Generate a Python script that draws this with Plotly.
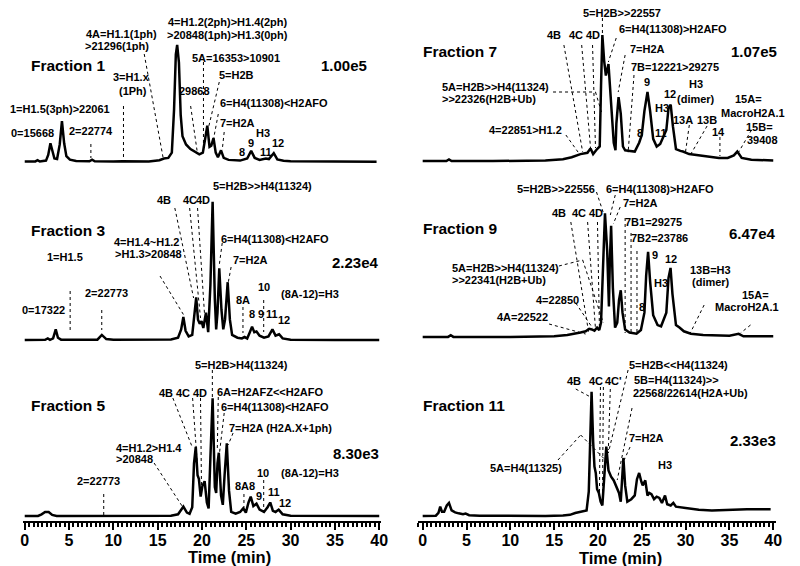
import plotly.graph_objects as go

W, H = 800, 566

# ---------------- data: retention time (min) / relative intensity (% of panel full scale) -------------
f1_time = [0, 1.2, 1.45, 1.7, 2.4, 2.65, 2.9, 3.1, 3.35, 3.65, 3.95, 4.2, 4.45, 4.7, 5.1, 5.8, 7.3, 7.6, 7.9,
           10, 11, 14, 15.2, 15.7, 16.2, 16.6, 16.85, 17.05, 17.2, 17.4, 17.6, 17.8, 18.2, 18.7, 19.2, 19.7,
           20.1, 20.35, 20.6, 20.85, 21.05, 21.3, 21.55, 21.8, 22.15, 22.45, 23, 24.3, 25.1, 25.55, 25.95,
           26.5, 27.2, 27.55, 28.1, 28.5, 29.2, 30, 35, 39.7]
f1_int = [0.5, 0.5, 1.5, 0.4, 1.2, 6, 16, 9, 3, 2.5, 15, 35, 16, 5, 2, 0.8, 0.6, 2, 0.6,
          0.4, 0.6, 0.5, 1.5, 3, 3.5, 8, 45, 92, 100, 85, 40, 22, 15, 11, 8.5, 6.5,
          8, 20, 31, 13, 14, 20.5, 8, 4, 10, 3.5, 1.8, 1.2, 3, 9.5, 3.5,
          1.8, 3, 2.5, 7.5, 2.2, 1, 0.6, 0.4, 0.3]

f3_time = [0, 2.3, 2.6, 2.85, 3.2, 3.5, 3.75, 4.1, 8.2, 8.7, 9.2, 10, 16.5, 17.3, 17.65, 17.9, 18.15, 18.5,
           18.9, 19.15, 19.35, 19.55, 19.75, 19.95, 20.15, 20.45, 20.7, 20.95, 21.2, 21.45, 21.6, 21.75,
           21.95, 22.2, 22.4, 22.6, 22.9, 23.15, 23.4, 24, 24.5, 24.8, 25.1, 25.4, 25.65, 25.9, 26.15,
           26.5, 27, 27.5, 27.95, 28.3, 28.7, 29.1, 30, 35, 40]
f3_int = [0.3, 0.5, 1.5, 0.5, 1.5, 8, 2, 0.6, 0.6, 4, 1, 0.5, 0.8, 2, 8, 17, 7, 3,
          4, 20, 31, 15, 12, 14, 9, 20, 6, 40, 100, 30, 8, 20,
          52, 22, 8, 15, 42, 15, 4, 2, 1.5, 2.5, 1.5, 6, 10, 6, 6.5,
          3.5, 2, 3, 8, 3.5, 4.5, 1.5, 0.6, 0.4, 0.3]

f5_time = [0, 1.5, 1.9, 2.3, 2.7, 3.1, 3.6, 8, 8.7, 9.4, 16.5, 17.3, 17.9, 18.3, 18.6, 18.9, 19.1, 19.3,
           19.5, 19.65, 19.85, 20.05, 20.3, 20.55, 20.75, 20.95, 21.2, 21.45, 21.6, 21.75, 21.9, 22.15,
           22.35, 22.55, 22.8, 23.05, 23.3, 23.8, 24.3, 24.65, 24.95, 25.25, 25.5, 25.8, 26.15, 26.5,
           27, 27.4, 27.7, 28.0, 28.3, 28.65, 29.1, 30, 35, 40]
f5_int = [0.5, 0.6, 2, 4, 4, 1.5, 0.6, 0.5, 1, 0.5, 0.8, 2, 8.5, 3.5, 2.5, 8, 45, 59,
          35, 32, 17, 26, 30, 12, 7, 50, 100, 25, 20, 45, 54, 18,
          10, 35, 62, 22, 4, 2.5, 4, 7, 3.5, 12, 17, 9, 11, 6,
          4, 8, 12, 5, 4, 6, 2, 0.8, 0.6, 0.5]

f7_time = [0, 2.7, 3.0, 3.3, 8, 14, 16, 17, 18, 18.8, 19.15, 19.45, 19.9, 20.2, 20.35, 20.5, 20.7, 20.9,
           21.2, 21.5, 21.8, 22.0, 22.1, 22.35, 22.6, 22.85, 23.1, 23.65, 24.2, 24.7, 25.0, 25.3, 25.65,
           25.95, 26.3, 26.7, 27.1, 27.55, 27.8, 28.05, 28.3, 28.55, 28.9, 29.4, 29.7, 30.4, 31.5, 33,
           33.8, 34.8, 35.5, 35.9, 36.4, 37.5, 40]
f7_int = [0.5, 0.5, 1.8, 0.5, 0.5, 1, 2, 3.5, 6, 7, 10.5, 6, 10, 12, 60, 100, 80, 68,
          77, 45, 15, 9, 30, 51, 38, 12, 9, 8.5, 8, 15, 21, 40, 55,
          40, 18, 12, 14, 21, 25, 42, 45, 28, 10, 8.5, 8, 6, 5, 3.5,
          3, 3, 5, 8, 3, 1.5, 1]

f9_time = [0, 2.9, 3.2, 3.5, 10, 15, 16.5, 17.5, 18.0, 18.6, 19.0, 19.3, 19.6, 19.9, 20.15, 20.35, 20.55,
           20.8, 21.05, 21.25, 21.35, 21.5, 21.7, 21.95, 22.2, 22.4, 22.6, 22.8, 23.1, 23.6, 24.4, 24.9,
           25.3, 25.5, 25.72, 25.95, 26.3, 26.8, 27.2, 27.6, 27.8, 28.05, 28.28, 28.5, 28.9, 29.3, 29.8,
           30.6, 32, 35, 36.05, 36.6, 40]
f9_int = [0.5, 0.5, 1.8, 0.5, 0.5, 1, 2, 3, 4, 5, 7, 6.5, 5.5, 8, 6, 12, 60,
          100, 70, 25, 60, 90, 40, 8, 12, 30, 38, 20, 6.5, 4, 3, 6,
          20, 50, 69, 45, 18, 10, 9, 16, 20, 48, 56, 35, 10, 8, 5,
          3, 2, 1.5, 3, 1, 1]

f11_time = [0, 1.5, 1.8, 2.0, 2.2, 2.45, 2.75, 3.0, 3.3, 3.7, 4.1, 4.6, 4.9, 5.3, 6.5, 10, 14, 16, 16.8,
            17.4, 17.8, 18.3, 18.7, 18.95, 19.1, 19.27, 19.45, 19.6, 19.75, 19.9, 20.1, 20.3, 20.5, 20.7,
            20.95, 21.2, 21.5, 21.8, 22.1, 22.4, 22.6, 22.75, 22.9, 23.1, 23.35, 23.8, 24.2, 24.45, 24.7,
            24.95, 25.1, 25.4, 25.65, 25.85, 26.1, 26.4, 26.7, 27.0, 27.3, 27.65, 27.9, 28.3, 28.6, 28.9,
            29.5, 30.2, 31.5, 33, 35, 37, 39.7]
f11_int = [0.5, 0.8, 3, 8, 4, 4, 9, 11, 5, 3.5, 2.7, 2, 2.5, 1.2, 0.8, 0.5, 0.6, 1, 1.5,
           3, 3.5, 4, 5, 20, 70, 100, 60, 40, 35, 22, 19, 12, 9, 30,
           56, 37, 32, 29, 24, 19, 12, 30, 47, 25, 12, 14, 17, 30, 35,
           28, 25, 29, 17, 19, 18, 14, 16, 15, 11, 17, 10, 9, 11, 8,
           7.5, 6.5, 5.5, 5, 5.5, 6, 6]

fraction_names = ["Fraction 1", "Fraction 3", "Fraction 5", "Fraction 7", "Fraction 9", "Fraction 11"]
full_scale = ["1.00e5", "2.23e4", "8.30e3", "1.07e5", "6.47e4", "2.33e3"]
x_ticks = [0, 5, 10, 15, 20, 25, 30, 35, 40]
x_title = "Time (min)"

# ---------------- layout geometry (pixels) ----------------
FONT = "Arial, 'Liberation Sans', Helvetica, sans-serif"
cols = [dict(x0=22, ppm=8.975, rng=[-0.15, 40.2]),
        dict(x0=425, ppm=8.875, rng=[-0.5, 40.3])]
# baseline px, full-scale px, panel top px, panel bottom px, column, has x axis
panels = [
    dict(t=f1_time, y=f1_int, col=0, base=162, top=45, T=0, B=172, axis=False),
    dict(t=f3_time, y=f3_int, col=0, base=340.5, top=201.7, T=172, B=350, axis=False),
    dict(t=f5_time, y=f5_int, col=0, base=516.7, top=398.3, T=350, B=521, axis=True),
    dict(t=f7_time, y=f7_int, col=1, base=161.7, top=35, T=0, B=172, axis=False),
    dict(t=f9_time, y=f9_int, col=1, base=337.5, top=213.3, T=172, B=350, axis=False),
    dict(t=f11_time, y=f11_int, col=1, base=516.7, top=391.7, T=350, B=520.5, axis=True),
]
name_pos = [(26, 66), (26, 230), (26, 405), (423, 52), (423, 228), (423, 405)]
scale_pos = [(345, 66), (357, 262), (357, 453), (760, 52), (759, 233), (759, 440)]
title_pos = [(229, 557), (625, 557.5)]

fig = go.Figure()
layout = dict(width=W, height=H, margin=dict(l=0, r=0, t=0, b=0), autosize=False,
              paper_bgcolor="white", plot_bgcolor="white", showlegend=False)

for i, p in enumerate(panels):
    c = cols[p["col"]]
    k = "" if i == 0 else str(i + 1)
    hgt = p["base"] - p["top"]
    yr = [(p["base"] - p["B"]) / hgt * 100, (p["base"] - p["T"]) / hgt * 100]
    ydom = [1 - p["B"] / H, 1 - p["T"] / H]
    xdom = [(c["x0"] + c["rng"][0] * c["ppm"]) / W, (c["x0"] + c["rng"][1] * c["ppm"]) / W]
    fig.add_trace(go.Scatter(x=p["t"], y=p["y"], mode="lines",
                             line=dict(color="black", width=2.5),
                             xaxis="x" + k, yaxis="y" + k, hoverinfo="skip"))
    xa = dict(domain=xdom, range=c["rng"], anchor="y" + k, showgrid=False, zeroline=False)
    if p["axis"]:
        xa.update(showline=True, linecolor="black", linewidth=2, ticks="outside", ticklen=7,
                  tickwidth=2, tickcolor="black", tickvals=x_ticks, ticklabelstandoff=-3,
                  tickfont=dict(family=FONT, size=16, color="black", weight="bold"),
                  minor=dict(dtick=0.5, tick0=0, ticks="outside", ticklen=4, tickwidth=1.5,
                             tickcolor="black"))
    else:
        xa.update(visible=False)
    ya = dict(domain=ydom, range=yr, anchor="x" + k, visible=False)
    layout["xaxis" + k] = xa
    layout["yaxis" + k] = ya


def esc(s):
    return s.replace("&", "&amp;").replace("<", "&lt;").replace(">", "&gt;")


annotations = []


def txt(x, y, s, size=11, anchor="center"):
    annotations.append(dict(x=x / W, y=1 - y / H, xref="paper", yref="paper", text=esc(s),
                            showarrow=False, xanchor=anchor, yanchor="middle",
                            font=dict(family=FONT, size=size, color="black", weight="bold")))


for (x, y), s in zip(name_pos, fraction_names):
    txt(x, y, s, 15.5, "left")
for (x, y), s in zip(scale_pos, full_scale):
    txt(x, y, s, 15, "center")
for (x, y) in title_pos:
    txt(x, y, x_title, 16.5, "center")

peak_labels = [
    # Fraction 1
    (58, 109, "1=H1.5(3ph)>22061", "c"), (30, 133, "0=15668", "c"), (89, 131, "2=22774", "c"),
    (130, 77, "3=H1.x", "c"), (132, 91, "(1Ph)", "c"),
    (82, 34, "4A=H1.1(1ph)", "l"), (81, 46, ">21296(1ph)", "l"),
    (165, 22, "4=H1.2(2ph)>H1.4(2ph)", "l"), (164, 35, ">20848(1ph)>H1.3(0ph)", "l"),
    (236, 58, "5A=16353>10901", "c"), (194, 91, "29868", "c"), (236, 75, "5=H2B", "c"),
    (274, 103, "6=H4(11308)<H2AFO", "c"), (237, 123, "7=H2A", "c"), (263, 133, "H3", "c"),
    (242, 152, "8", "c"), (251, 143, "9", "c"), (266, 152, "11", "c"), (278, 143, "12", "c"),
    # Fraction 3
    (63, 257, "1=H1.5", "c"), (41, 310, "0=17322", "c"), (105, 293, "2=22773", "c"),
    (110, 242, "4=H1.4~H1.2", "l"), (111, 254, ">H1.3>20848", "l"),
    (163, 200, "4B", "c"), (189, 200, "4C", "c"), (203, 200, "4D", "c"),
    (263, 186, "5=H2B>>H4(11324)", "c"), (275, 239, "6=H4(11308)<H2AFO", "c"),
    (251, 260, "7=H2A", "c"), (264, 287, "10", "c"), (243, 300, "8A", "c"),
    (311, 294, "(8A-12)=H3", "c"), (252, 314, "8", "c"), (261, 314, "9", "c"),
    (272, 314, "11", "c"), (285, 320, "12", "c"),
    # Fraction 5
    (97, 481, "2=22773", "c"), (112, 448, "4=H1.2>H1.4", "l"), (112, 459, ">20848", "l"),
    (165, 393, "4B", "c"), (182, 393, "4C", "c"), (199, 393, "4D", "c"),
    (242, 365, "5=H2B>H4(11324)", "c"), (271, 392, "6A=H2AFZ<<H2AFO", "c"),
    (275, 407, "6=H4(11308)<H2AFO", "c"), (281, 428, "7=H2A (H2A.X+1ph)", "c"),
    (245, 486, "8A8", "c"), (263, 473, "10", "c"), (311, 473, "(8A-12)=H3", "c"),
    (259, 496, "9", "c"), (274, 492, "11", "c"), (286, 503, "12", "c"),
    # Fraction 7
    (627, 13, "5=H2B>>22557", "c"), (558, 35, "4B", "c"), (580, 35, "4C", "c"), (597, 35, "4D", "c"),
    (678, 29, "6=H4(11308)>H2AFO", "c"), (653, 49, "7=H2A", "c"), (680, 67, "7B=12221>29275", "c"),
    (443, 87, "5A=H2B>>H4(11324)", "l"), (443, 99, ">>22326(H2B+Ub)", "l"),
    (652, 82, "9", "c"), (702, 84, "H3", "c"), (702, 99, "(dimer)", "c"), (675, 94, "12", "c"),
    (667, 108, "H3", "c"), (689, 120, "13A", "c"), (713, 120, "13B", "c"),
    (645, 133, "8", "c"), (666, 133, "11", "c"), (725, 132, "14", "c"),
    (755, 99, "15A=", "c"), (759, 113, "MacroH2A.1", "c"), (766, 127, "15B=", "c"),
    (769, 140, "39408", "c"), (529, 130, "4=22851>H1.2", "c"),
    # Fraction 9
    (560, 189, "5=H2B>>22556", "c"), (665, 189, "6=H4(11308)>H2AFO", "c"), (646, 203, "7=H2A", "c"),
    (659, 222, "7B1=29275", "c"), (665, 238, "7B2=23786", "c"),
    (563, 213, "4B", "c"), (583, 213, "4C", "c"), (600, 213, "4D", "c"),
    (660, 255, "9", "c"), (676, 259, "12", "c"), (666, 283, "H3", "c"), (647, 307, "8", "c"),
    (453, 268, "5A=H2B>>H4(11324)", "l"), (453, 280, ">>22341(H2B+Ub)", "l"),
    (562, 300, "4=22850", "c"), (526, 317, "4A=22522", "c"),
    (716, 270, "13B=H3", "c"), (717, 282, "(dimer)", "c"),
    (762, 295, "15A=", "c"), (753, 307, "MacroH2A.1", "c"),
    # Fraction 11
    (578, 381, "4B", "c"), (600, 381, "4C", "c"), (618, 381, "4C'", "c"),
    (684, 365, "5=H2B<<H4(11324)", "c"), (637, 380, "5B=H4(11324)>>", "l"),
    (636, 393, "22568/22614(H2A+Ub)", "l"), (652, 438, "7=H2A", "c"), (670, 465, "H3", "c"),
    (530, 468, "5A=H4(11325)", "c"),
]
for x, y, s, a in peak_labels:
    txt(x, y, s, 11, "left" if a == "l" else "center")

leaders = [
    # Fraction 1
    (89, 144, 89, 158), (122, 106, 122, 159), (143, 54, 162, 157), (190, 106, 197, 154),
    (203, 62, 203, 150), (219, 82, 208, 128), (218, 114, 213, 140), (224, 132, 222, 150),
    # Fraction 3
    (68, 291, 68, 332), (100, 310, 100, 330), (159, 276, 183, 315), (174, 208, 193, 298),
    (189, 208, 200, 318), (197, 208, 204, 313), (222, 243, 219, 265), (231, 267, 228, 283),
    (243, 307, 243, 333), (264, 300, 264, 332),
    # Fraction 5
    (102, 494, 102, 516), (153, 463, 182, 507), (172, 398, 192, 448), (192, 398, 197, 467),
    (200, 398, 201, 487), (212, 370, 212, 398), (218, 397, 217, 450), (224, 413, 219, 455),
    (233, 433, 228, 445), (244, 494, 244, 510), (264, 480, 264, 513),
    # Fraction 7
    (607, 18, 607, 35), (568, 45, 587, 152), (586, 45, 595, 148), (597, 45, 600, 148),
    (621, 38, 613, 62), (630, 55, 623, 92), (639, 75, 633, 153), (557, 92, 600, 92),
    (600, 92, 606, 112), (570, 135, 583, 153), (695, 125, 691, 153), (713, 126, 696, 155),
    (726, 137, 726, 156), (758, 130, 745, 152),
    # Fraction 9
    (601, 192, 608, 213), (620, 195, 615, 215), (625, 207, 618, 224), (575, 222, 593, 332),
    (592, 222, 600, 329), (602, 222, 604, 329), (630, 218, 630, 333), (636, 233, 636, 333),
    (642, 251, 642, 333), (563, 266, 587, 260), (587, 260, 608, 323), (580, 303, 597, 328),
    (553, 324, 590, 334), (710, 305, 696, 333), (757, 325, 747, 333),
    # Fraction 11
    (580, 389, 595, 397), (605, 387, 604, 493), (608, 387, 607, 505), (615, 389, 613, 450),
    (633, 370, 613, 453), (637, 408, 622, 480), (635, 447, 629, 460), (562, 460, 585, 435),
    (585, 435, 610, 460),
]
shapes = [dict(type="line", xref="paper", yref="paper", x0=a / W, y0=1 - b / H, x1=c / W, y1=1 - d / H,
               line=dict(color="black", width=1, dash="dot")) for a, b, c, d in leaders]

layout["annotations"] = annotations
layout["shapes"] = shapes
fig.update_layout(**layout)
fig.write_html("out.html", config={"displayModeBar": False},
               post_script="document.body.style.margin='0px';document.body.style.overflow='hidden';")
